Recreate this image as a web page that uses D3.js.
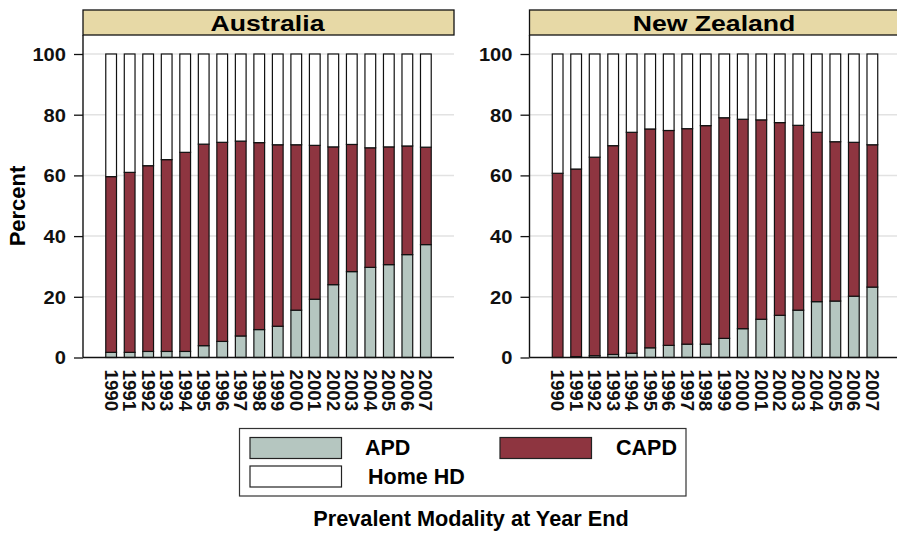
<!DOCTYPE html>
<html>
<head>
<meta charset="utf-8">
<script src="https://cdn.jsdelivr.net/npm/d3@7"></script>
<style>
  html, body { margin: 0; padding: 0; background: #fff; }
  svg { display: block; font-family: "Liberation Sans", Arial, sans-serif; font-weight: bold; }
</style>
</head>
<body>
<svg id="chart" width="897" height="535"></svg>
<script>
// Prevalent peritoneal / home dialysis modality at year end, percent of patients
const years = ["1990","1991","1992","1993","1994","1995","1996","1997","1998","1999",
               "2000","2001","2002","2003","2004","2005","2006","2007"];

const ausAPD  = [1.7, 1.7, 2.0, 2.0, 2.0, 3.9, 5.3, 7.1, 9.2, 10.3, 15.6, 19.2, 24.0, 28.3, 29.7, 30.6, 33.9, 37.2];
const ausCAPD = [57.9, 59.3, 61.2, 63.2, 65.6, 66.4, 65.6, 64.2, 61.6, 59.8, 54.5, 50.7, 45.4, 41.9, 39.4, 38.8, 35.8, 32.1];
const ausHHD  = [40.4, 39.0, 36.8, 34.8, 32.4, 29.7, 29.1, 28.7, 29.2, 29.9, 29.9, 30.1, 30.6, 29.8, 30.9, 30.6, 30.3, 30.7];

const nzAPD  = [0.0, 0.3, 0.6, 1.0, 1.4, 3.2, 4.0, 4.4, 4.4, 6.3, 9.5, 12.6, 13.9, 15.6, 18.4, 18.6, 20.2, 23.2];
const nzCAPD = [60.7, 61.8, 65.4, 68.8, 72.8, 72.1, 70.8, 71.0, 72.0, 72.7, 69.0, 65.7, 63.5, 60.9, 55.8, 52.5, 50.7, 46.9];
const nzHHD  = [39.3, 37.9, 34.0, 30.2, 25.8, 24.7, 25.2, 24.6, 23.6, 21.0, 21.5, 21.7, 22.6, 23.5, 25.8, 28.9, 29.1, 29.9];

const yTicks = [0, 20, 40, 60, 80, 100];
const seriesKeys = ["APD", "CAPD", "Home HD"];
const colors = { "APD": "#b5c6c0", "CAPD": "#8e3540", "Home HD": "#ffffff" };

const panels = [
  { title: "Australia",   left: 83,    apd: ausAPD, capd: ausCAPD, hhd: ausHHD },
  { title: "New Zealand", left: 529.5, apd: nzAPD,  capd: nzCAPD,  hhd: nzHHD }
];

const svg = d3.select("#chart");
const panelW = 371;
const headerTop = 10, headerBottom = 35;
const y = d3.scaleLinear().domain([0, 100]).range([357.5, 54]);

panels.forEach(p => {
  const g = svg.append("g");
  const x = d3.scaleBand().domain(years)
    .range([p.left, p.left + panelW])
    .paddingInner(0.42).paddingOuter(1.23);

  // gridlines
  g.append("g").selectAll("line").data(yTicks.filter(t => t > 0)).join("line")
    .attr("x1", p.left).attr("x2", p.left + panelW)
    .attr("y1", d => y(d)).attr("y2", d => y(d))
    .attr("stroke", "#e2e2e2").attr("stroke-width", 1.5);

  // header strip
  g.append("rect")
    .attr("x", p.left).attr("y", headerTop)
    .attr("width", panelW).attr("height", headerBottom - headerTop)
    .attr("fill", "#e7d9a6").attr("stroke", "#111").attr("stroke-width", 1.3);
  g.append("text")
    .attr("transform", `translate(${p.left + panelW / 2 - 1},31) scale(1.21,1)`)
    .attr("text-anchor", "middle").attr("font-size", 22)
    .text(p.title);

  // stacked bars
  const rows = years.map((yr, i) => ({ year: yr, "APD": p.apd[i], "CAPD": p.capd[i], "Home HD": p.hhd[i] }));
  const stacked = d3.stack().keys(seriesKeys)(rows);
  g.append("g").selectAll("g").data(stacked).join("g")
    .attr("fill", d => colors[d.key])
    .selectAll("rect").data(d => d).join("rect")
    .attr("x", d => x(d.data.year))
    .attr("width", x.bandwidth())
    .attr("y", d => y(d[1]))
    .attr("height", d => y(d[0]) - y(d[1]))
    .attr("stroke", "#111").attr("stroke-width", 1.2);

  // y axis
  const yAxis = d3.axisLeft(y).tickValues(yTicks).tickSize(9).tickPadding(8).tickFormat(d3.format("d"));
  const ya = g.append("g").attr("transform", `translate(${p.left},0)`).call(yAxis);
  ya.select(".domain").remove();
  ya.selectAll(".tick line").attr("stroke", "#111").attr("stroke-width", 1.3);
  ya.selectAll(".tick text").attr("font-size", 17.5).attr("font-weight", "bold")
    .attr("font-family", "Liberation Sans, Arial, sans-serif").attr("fill", "#111")
    .attr("x", 0).attr("dy", "0.36em")
    .attr("transform", "translate(-17,0) scale(1.15,1)");
  g.append("line")
    .attr("x1", p.left).attr("x2", p.left)
    .attr("y1", headerBottom).attr("y2", y(0))
    .attr("stroke", "#111").attr("stroke-width", 1.4);

  // x axis
  const xAxis = d3.axisBottom(x).tickSize(0).tickPadding(0);
  const xa = g.append("g").attr("transform", `translate(0,${y(0)})`).call(xAxis);
  xa.select(".domain").remove();
  xa.selectAll(".tick text")
    .attr("font-size", 18).attr("font-weight", "bold")
    .attr("font-family", "Liberation Sans, Arial, sans-serif").attr("fill", "#111")
    .attr("transform", "translate(0,12) rotate(90) scale(1.04,1)")
    .attr("text-anchor", "start").attr("dy", "0.36em").attr("y", 0).attr("x", 0);
  g.append("line")
    .attr("x1", p.left).attr("x2", p.left + panelW)
    .attr("y1", y(0)).attr("y2", y(0))
    .attr("stroke", "#111").attr("stroke-width", 1.6);
});

// y axis title
svg.append("text")
  .attr("transform", "translate(25,206) rotate(-90)")
  .attr("text-anchor", "middle").attr("font-size", 22)
  .text("Percent");

// legend
const legend = svg.append("g");
legend.append("rect")
  .attr("x", 239.5).attr("y", 428.5).attr("width", 446.5).attr("height", 67.5)
  .attr("fill", "#fff").attr("stroke", "#333").attr("stroke-width", 1.2);
const legendItems = [
  { key: "APD",     sx: 250, sy: 437.5, tx: 365, ty: 455 },
  { key: "CAPD",    sx: 500, sy: 437.5, tx: 616, ty: 455 },
  { key: "Home HD", sx: 250, sy: 466,   tx: 368, ty: 484 }
];
legendItems.forEach(it => {
  legend.append("rect")
    .attr("x", it.sx).attr("y", it.sy).attr("width", 91.5).attr("height", 21)
    .attr("fill", colors[it.key]).attr("stroke", "#222").attr("stroke-width", 1.2);
  legend.append("text")
    .attr("x", it.tx).attr("y", it.ty).attr("font-size", 21.5)
    .text(it.key);
});

// x axis title
svg.append("text")
  .attr("x", 471).attr("y", 526)
  .attr("text-anchor", "middle").attr("font-size", 21.7)
  .text("Prevalent Modality at Year End");
</script>
</body>
</html>
